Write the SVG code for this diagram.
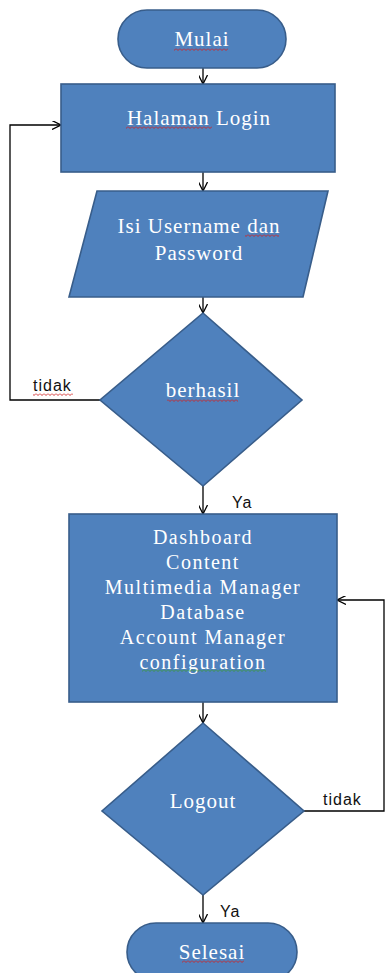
<svg xmlns="http://www.w3.org/2000/svg" width="385" height="973" viewBox="0 0 385 973">
<defs>
<style>
.shape{fill:#4f81bd;stroke:#385d8a;stroke-width:1.6}
.t{font-family:"Liberation Serif","Times New Roman",serif;font-size:21px;letter-spacing:1px;fill:#ffffff;text-anchor:middle}
.tb{font-family:"Liberation Serif","Times New Roman",serif;font-size:20px;letter-spacing:1.5px;fill:#ffffff;text-anchor:middle}
.lbl{font-family:"Liberation Sans",Arial,sans-serif;font-size:16px;letter-spacing:1px;fill:#111111}
.conn{fill:none;stroke:#000000;stroke-width:1.3}
</style>
<marker id="arr" viewBox="0 0 10 10" refX="10" refY="5" markerWidth="9" markerHeight="9" markerUnits="userSpaceOnUse" orient="auto">
<path d="M0,0 L10,5 L0,10" fill="none" stroke="#000000" stroke-width="1.4"/>
</marker>
<pattern id="sqr" width="4" height="3" patternUnits="userSpaceOnUse">
<path d="M0,0.5 L2,2.5 L4,0.5" fill="none" stroke="#d02020" stroke-width="0.9"/>
</pattern>
<pattern id="sqg" width="4" height="3" patternUnits="userSpaceOnUse">
<path d="M0,0.5 L2,2.5 L4,0.5" fill="none" stroke="#3a9a3a" stroke-width="0.9"/>
</pattern>
</defs>
<rect width="385" height="973" fill="#ffffff"/>

<g id="connectors">
<path class="conn" d="M203,68 V84" marker-end="url(#arr)"/>
<path class="conn" d="M203,172 V191" marker-end="url(#arr)"/>
<path class="conn" d="M203,297 V313" marker-end="url(#arr)"/>
<path class="conn" d="M100,400 H10 V125 H61" marker-end="url(#arr)"/>
<path class="conn" d="M203,486 V514" marker-end="url(#arr)"/>
<path class="conn" d="M203,702 V723" marker-end="url(#arr)"/>
<path class="conn" d="M304,811 H384 V600 H337" marker-end="url(#arr)"/>
<path class="conn" d="M203,895 V923" marker-end="url(#arr)"/>
<text class="lbl" x="33" y="391">tidak</text>
<rect x="33" y="393" width="40" height="3" fill="url(#sqr)"/>
<text class="lbl" x="232" y="508">Ya</text>
<text class="lbl" x="323" y="805">tidak</text>
<text class="lbl" x="220" y="917">Ya</text>
</g>

<g id="mulai">
<rect class="shape" x="118" y="10" width="168" height="58" rx="29"/>
<text class="t" x="202" y="46">Mulai</text>
<rect x="174" y="48" width="54" height="3" fill="url(#sqr)"/>
</g>

<g id="halaman-login">
<rect class="shape" x="61" y="84" width="274" height="88"/>
<text class="t" x="199" y="125">Halaman Login</text>
<rect x="126" y="126" width="86" height="3" fill="url(#sqr)"/>
</g>

<g id="isi-username">
<polygon class="shape" points="97,191 328,191 303,297 69,297"/>
<text class="t" x="199" y="233">Isi Username dan</text>
<text class="t" x="199" y="260">Password</text>
<rect x="245" y="234" width="34" height="3" fill="url(#sqr)"/>
</g>

<g id="berhasil">
<polygon class="shape" points="203,313 302,400 203,486 100,400"/>
<text class="t" x="203" y="397">berhasil</text>
<rect x="167" y="399" width="71" height="3" fill="url(#sqr)"/>
</g>

<g id="dashboard">
<rect class="shape" x="69" y="514" width="268" height="188"/>
<text class="tb" x="203" y="544">Dashboard</text>
<text class="tb" x="203" y="569">Content</text>
<text class="tb" x="203" y="594">Multimedia Manager</text>
<text class="tb" x="203" y="619">Database</text>
<text class="tb" x="203" y="644">Account Manager</text>
<text class="tb" x="203" y="669">configuration</text>
<rect x="142" y="669" width="124" height="3" fill="url(#sqg)"/>
</g>

<g id="logout">
<polygon class="shape" points="203,723 304,811 203,895 102,811"/>
<text class="t" x="203" y="808">Logout</text>
</g>

<g id="selesai">
<rect class="shape" x="127" y="923" width="170" height="58" rx="29"/>
<text class="t" x="212" y="959">Selesai</text>
<rect x="182" y="960" width="62" height="3" fill="url(#sqr)"/>
</g>
</svg>
